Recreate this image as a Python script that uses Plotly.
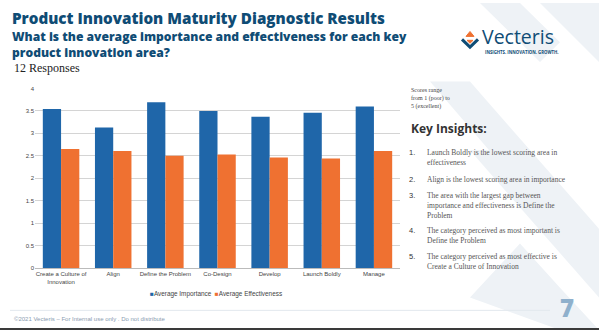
import plotly.graph_objects as go

categories = ["Create a Culture of<br>Innovation", "Align", "Define the Problem", "Co-Design",
              "Develop", "Launch Boldly", "Manage"]
importance = [3.54, 3.13, 3.69, 3.50, 3.37, 3.46, 3.60]
effectiveness = [2.65, 2.61, 2.50, 2.53, 2.46, 2.44, 2.61]
series_names = ["Average Importance", "Average Effectiveness"]
y_ticks = [0, 0.5, 1, 1.5, 2, 2.5, 3, 3.5, 4]
y_tick_labels = ["0", "0.5", "1", "1.5", "2", "2.5", "3", "3.5", "4"]
insights = [
    "Launch Boldly is the lowest scoring area in<br>effectiveness",
    "Align is the lowest scoring area in importance",
    "The area with the largest gap between<br>importance and effectiveness is Define the<br>Problem",
    "The category perceived as most important is<br>Define the Problem",
    "The category perceived as most effective is<br>Create a Culture of Innovation",
]
insight_y = [147, 174, 190, 226, 253]

W, H = 599, 333
BLUE = "#1f66a9"
ORANGE = "#ef7131"
NAVY = "#0f4c75"
colors = [BLUE, ORANGE]

fig = go.Figure()
for name, vals, col in zip(series_names, [importance, effectiveness], colors):
    fig.add_trace(go.Bar(x=categories, y=vals, name=name, marker_color=col,
                         marker_line_width=0, showlegend=False))

def px(x):
    return x / W

def py(y):
    return 1 - y / H

shapes = []
bg = "#eef2f6"
for path in [
    "M 430 80 L 470 80 L 599 230 L 599 280 Z",
    "M 470 150 L 520 150 L 599 240 L 599 300 Z",
    "M 540 0 L 599 0 L 599 60 Z",
    "M 480 0 L 520 0 L 560 40 L 540 60 Z",
    "M 470 300 L 520 245 L 560 290 L 599 333 L 560 333 Z",
]:
    toks = path.split()
    out = []
    i = 0
    while i < len(toks):
        t = toks[i]
        if t in ("M", "L"):
            out += [t, f"{px(float(toks[i+1])):.4f}", f"{py(float(toks[i+2])):.4f}"]
            i += 3
        else:
            out.append(t)
            i += 1
    shapes.append(dict(type="path", xref="paper", yref="paper", layer="below",
                       path=" ".join(out), fillcolor=bg, line_width=0))
shapes.append(dict(type="line", xref="paper", yref="paper", x0=px(10), x1=px(550), y0=py(313), y1=py(313),
                   line=dict(color="#e3e8ee", width=1)))
shapes.append(dict(type="rect", xref="paper", yref="paper", x0=0, x1=1, y0=0, y1=py(331),
                   fillcolor="#3a3a3a", line_width=0))
cx, cy = 470, 37
shapes.append(dict(type="path", xref="paper", yref="paper",
                   path=f"M {px(cx-8)} {py(cy)} L {px(cx)} {py(cy+8)} L {px(cx+8)} {py(cy)}",
                   line=dict(color=NAVY, width=3), fillcolor="rgba(0,0,0,0)"))
shapes.append(dict(type="path", xref="paper", yref="paper",
                   path=f"M {px(cx-4)} {py(cy-3)} L {px(cx)} {py(cy-8)} L {px(cx+4)} {py(cy-3)} Z",
                   line=dict(color=ORANGE, width=1), fillcolor=ORANGE))
shapes.append(dict(type="path", xref="paper", yref="paper",
                   path=f"M {px(cx-3)} {py(cy+1)} L {px(cx)} {py(cy+4)} L {px(cx+3)} {py(cy+1)} Z",
                   line=dict(color=ORANGE, width=1), fillcolor=ORANGE))

annotations = []
def txt(x, y, text, size, color, family, anchor="left", yanchor="middle", weight=None):
    font = dict(size=size, color=color, family=family)
    if weight:
        font["weight"] = weight
    annotations.append(dict(x=px(x), y=py(y), xref="paper", yref="paper", text=text, showarrow=False,
                            xanchor=anchor, yanchor=yanchor, align="left", font=font, borderpad=0))

txt(11, 15, "Product Innovation Maturity Diagnostic Results", 15.2, NAVY, "Open Sans", weight=800)
txt(11, 42.5, "What is the average importance and effectiveness for each key<br>product innovation area?",
    12.1, NAVY, "Open Sans", weight=800)
txt(13, 66, "12 Responses", 12, "#222222", "Liberation Serif")
txt(481, 34, "Vecteris", 19.5, NAVY, "Open Sans")
txt(484, 50, "INSIGHTS. INNOVATION. GROWTH.", 4.3, NAVY, "Open Sans", weight=700)
txt(410, 97, "Scores range<br>from 1 (poor) to<br>5 (excellent)", 6, "#444444", "Liberation Serif")
txt(410, 128, "Key Insights:", 12, "#333333", "Open Sans", weight=700)
for i, (t, yy) in enumerate(zip(insights, insight_y)):
    txt(408, yy, f"{i+1}.", 7.5, "#333333", "Liberation Sans", yanchor="top")
    txt(426, yy, t, 7.5, "#555555", "Liberation Serif", yanchor="top")
txt(13, 322, "©2021 Vecteris – For Internal use only . Do not distribute", 6, "#8a9bb0", "Liberation Sans")
txt(567, 310, "7", 24, "#8fb0cc", "Open Sans", anchor="center", weight=800)

legend_text = "  ".join(
    f"<span style='color:{c}'>■</span>{n}" for n, c in zip(series_names, colors))
txt(216, 296, legend_text, 6.4, "#444444", "Liberation Sans", anchor="center")

fig.update_layout(
    width=W, height=H, margin=dict(l=0, r=0, t=0, b=0),
    paper_bgcolor="white", plot_bgcolor="white",
    barmode="group", bargap=0.3, bargroupgap=0,
    shapes=shapes, annotations=annotations,
    showlegend=False,
    xaxis=dict(domain=[px(35), px(400)], tickfont=dict(size=6, color="#444444", family="Liberation Sans"),
               showline=True, linecolor="#bbbbbb", ticks="", tickangle=0),
    yaxis=dict(domain=[py(270), py(87)], range=[0, 4], tickvals=y_ticks, ticktext=y_tick_labels,
               tickfont=dict(size=6, color="#444444", family="Liberation Sans"),
               gridcolor="#d4d4d4", gridwidth=1, zeroline=False, ticks="", ticklen=0),
    font=dict(family="Liberation Sans"),
)

fig.write_html("out.html")
